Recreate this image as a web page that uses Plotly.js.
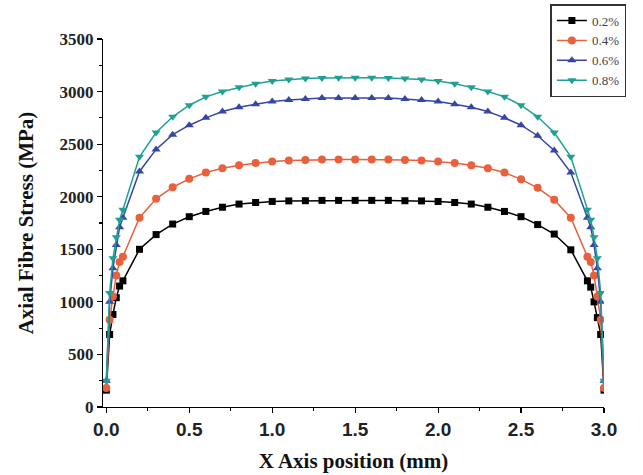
<!DOCTYPE html>
<html>
<head>
<meta charset="utf-8">
<script src="https://cdn.plot.ly/plotly-3.0.1.min.js"></script>
<style>html,body{margin:0;padding:0;background:#fff;}#chart{width:643px;height:475px;}</style>
</head>
<body>
<div id="chart"></div>
<script>
// X positions (mm)
const xPos = [0, 0.02, 0.04, 0.06, 0.08, 0.1,
  0.2, 0.3, 0.4, 0.5, 0.6, 0.7, 0.8, 0.9, 1.0,
  1.1, 1.2, 1.3, 1.4, 1.5, 1.6, 1.7, 1.8, 1.9,
  2.0, 2.1, 2.2, 2.3, 2.4, 2.5, 2.6, 2.7, 2.8,
  2.9, 2.92, 2.94, 2.96, 2.98, 3.0];

const seriesNames = ["0.2%", "0.4%", "0.6%", "0.8%"];

const stress02 = [160, 690, 880, 1040, 1150, 1200,
  1500, 1640, 1740, 1810, 1860, 1900, 1930, 1945, 1955,
  1960, 1962, 1965, 1965, 1965, 1965, 1965, 1962, 1960,
  1955, 1945, 1930, 1900, 1860, 1810, 1735, 1645, 1495,
  1200, 1140, 1000, 850, 690, 160];

const stress04 = [180, 830, 1050, 1250, 1380, 1430,
  1800, 1980, 2090, 2170, 2230, 2270, 2300, 2320, 2335,
  2345, 2350, 2355, 2355, 2355, 2355, 2355, 2350, 2345,
  2335, 2320, 2300, 2270, 2230, 2165, 2085, 1970, 1800,
  1430, 1380, 1250, 1050, 830, 180];

const stress06 = [250, 1000, 1320, 1540, 1710, 1800,
  2240, 2450, 2590, 2680, 2750, 2810, 2850, 2880, 2905,
  2920, 2930, 2940, 2940, 2940, 2940, 2940, 2930, 2920,
  2905, 2880, 2850, 2810, 2750, 2680, 2580, 2440, 2230,
  1800, 1710, 1540, 1320, 1000, 250];

const stress08 = [250, 1085, 1415, 1615, 1780, 1875,
  2380, 2610, 2760, 2870, 2950, 3000, 3040, 3075, 3100,
  3115, 3125, 3130, 3132, 3132, 3132, 3130, 3125, 3115,
  3100, 3075, 3040, 3000, 2950, 2870, 2760, 2610, 2380,
  1875, 1780, 1615, 1415, 1085, 250];

const yTickVals = [0, 500, 1000, 1500, 2000, 2500, 3000, 3500];
const xTickVals = [0, 0.5, 1.0, 1.5, 2.0, 2.5, 3.0];
const xTickText = ["0.0", "0.5", "1.0", "1.5", "2.0", "2.5", "3.0"];

const colors = ["#000000", "#e8603c", "#3646a6", "#1fa093"];
const symbols = ["square", "circle", "triangle-up", "triangle-down"];
const sizes = [7, 8, 8, 8];
const allY = [stress02, stress04, stress06, stress08];

const traces = allY.map((ys, i) => ({
  x: xPos, y: ys, name: seriesNames[i], type: "scatter", mode: "lines+markers",
  line: {color: colors[i], width: 1.5},
  marker: {color: colors[i], symbol: symbols[i], size: sizes[i]}
}));

const layout = {
  width: 643, height: 475,
  margin: {l: 103, r: 39, t: 39, b: 68, autoexpand: false},
  paper_bgcolor: "#fff", plot_bgcolor: "#fff",
  showlegend: true,
  legend: {
    x: 0.893, y: 1.095, xanchor: "left", yanchor: "top",
    bordercolor: "#333", borderwidth: 1.5, bgcolor: "#fff",
    font: {family: "Liberation Serif", size: 13, color: "#444"},
    tracegroupgap: 0
  },
  xaxis: {
    range: [-0.02, 3.0], tickvals: xTickVals, ticktext: xTickText,
    ticks: "outside", ticklen: 5, tickwidth: 1.2, tickcolor: "#000",
    minor: {dtick: 0.25, ticks: "outside", ticklen: 3, tickcolor: "#000", showgrid: false},
    showline: true, linecolor: "#000", linewidth: 1.2,
    showgrid: false, zeroline: false,
    tickfont: {family: "Liberation Sans", size: 19, color: "#222", weight: "bold"},
    title: {text: "<b>X Axis position (mm)</b>", font: {family: "Liberation Serif", size: 21, color: "#111"}, standoff: 14}
  },
  yaxis: {
    range: [0, 3500], tickvals: yTickVals,
    ticks: "outside", ticklen: 5, tickwidth: 1.2, tickcolor: "#000",
    minor: {dtick: 250, ticks: "outside", ticklen: 3, tickcolor: "#000", showgrid: false},
    showline: true, linecolor: "#000", linewidth: 1.2,
    showgrid: false, zeroline: false,
    tickfont: {family: "Liberation Serif", size: 17, color: "#222", weight: "bold"},
    title: {text: "<b>Axial Fibre Stress (MPa)</b>", font: {family: "Liberation Serif", size: 21, color: "#111"}, standoff: 20}
  }
};

Plotly.newPlot("chart", traces, layout, {displayModeBar: false, staticPlot: true});
</script>
</body>
</html>
